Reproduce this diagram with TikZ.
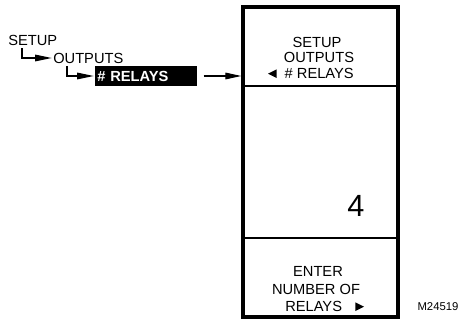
\documentclass[tikz,border=0pt]{standalone}
\usepackage{fontspec}
\setmainfont{Liberation Sans}
\usetikzlibrary{arrows.meta,positioning}

\newcommand{\lefttri}{\tikz[baseline=0pt]\fill (0,3.25pt) -- (6.5pt,6.5pt) -- (6.5pt,0pt) -- cycle;}
\newcommand{\righttri}{\tikz[baseline=0pt]\fill (6.5pt,3.25pt) -- (0pt,6.5pt) -- (0pt,0pt) -- cycle;}

\tikzset{
  menutext/.style={font=\fontsize{11}{11}\selectfont, inner sep=0pt},
  hilite/.style={fill=black, text=white, font=\fontsize{11}{11}\selectfont\bfseries,
    text width=73.5pt, inner xsep=1.5pt, inner ysep=0pt, minimum height=15pt},
  elbow/.style={line width=0.8pt, shorten >=1pt, -{Triangle[length=12.5pt,width=5pt]}},
  pointer/.style={line width=0.8pt, -{Triangle[length=12pt,width=5pt]}},
  panelbox/.style={draw, line width=2.8pt, minimum width=116pt, minimum height=233pt, inner sep=0pt},
  divider/.style={line width=1pt},
}

\begin{document}
\begin{tikzpicture}[x=0.75pt,y=-0.75pt]
  \useasboundingbox (0,0) rectangle (461,320);
  % menu path
  \node[menutext,anchor=west] (setup) at (8,40) {SETUP};
  \node[menutext,anchor=west] (outputs) at (53,58) {OUTPUTS};
  \node[hilite,anchor=west] (relays) at (95,76) {\# RELAYS};
  \draw[elbow] ([xshift=10.5pt,yshift=-2pt]setup.south west) |- (outputs.west);
  \draw[elbow] ([xshift=10.5pt,yshift=-2pt]outputs.south west) |- (relays.west);
  % display
  \node[panelbox] (panel) at (320.5,162) {};
  \draw[divider] (panel.west |- 0,86) -- (panel.east |- 0,86);
  \draw[divider] (panel.west |- 0,238) -- (panel.east |- 0,238);
  \draw[pointer] ([xshift=4.5pt]relays.east) -- (panel.west |- relays.east);
  % display text
  \node[menutext] (dsetup) at (317,42) {SETUP};
  \node[menutext] (doutputs) at (319,57) {OUTPUTS};
  \node[menutext,anchor=east] (drelays) at (354,73) {\lefttri\hspace{6pt}\# RELAYS};
  \node[font=\fontsize{23}{23}\selectfont, inner sep=0pt] (value) at (356,206) {4};
  \node[menutext] (enter) at (318,271) {ENTER};
  \node[menutext] (number) at (316,289) {NUMBER OF};
  \node[menutext,anchor=west] (drelays2) at (285,306) {RELAYS\hspace{10pt}\righttri};
  \node[font=\fontsize{8.5}{8.5}\selectfont, inner sep=0pt] (fig) at (438,307) {M24519};
\end{tikzpicture}
\end{document}
